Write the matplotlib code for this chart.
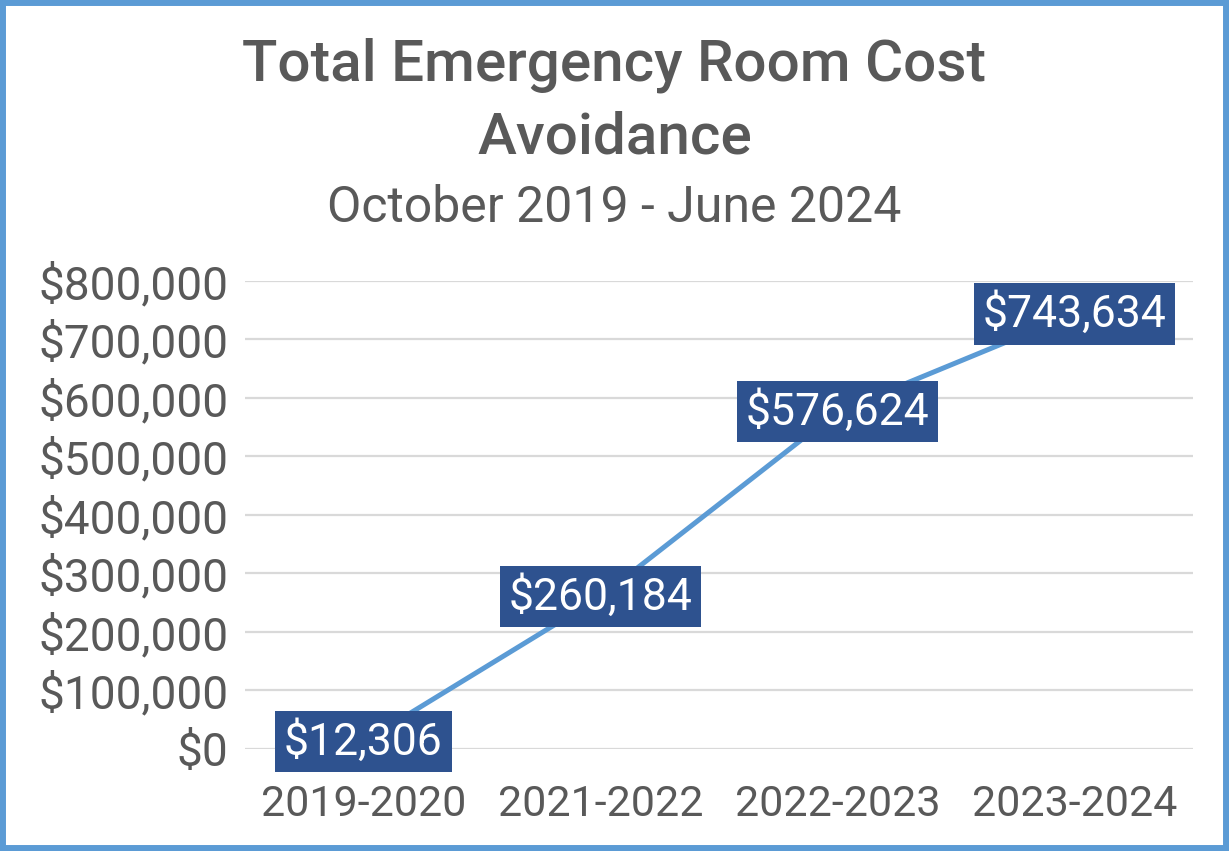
import matplotlib.pyplot as plt
from matplotlib.patches import Rectangle
from matplotlib.ticker import FuncFormatter

# ------------------------
# Data
# ------------------------

periods = ["2019-2020", "2021-2022", "2022-2023", "2023-2024"]
cost_avoided = [12306, 260184, 576624, 743634]
y_ticks = [0, 100000, 200000, 300000, 400000, 500000, 600000, 700000, 800000]

line_blue = "#5B9BD5"
label_blue = "#2E528F"
text_gray = "#595959"
grid_gray = "#D9D9D9"

plt.rcParams["font.family"] = ["Roboto", "DejaVu Sans"]

# ------------------------
# Figure
# ------------------------

fig = plt.figure(figsize=(12.29, 8.51), dpi=100)
ax = fig.add_axes([0.1993, 0.1199, 0.7714, 0.5499])

x = list(range(len(periods)))
ax.plot(x, cost_avoided, color=line_blue, linewidth=3.6, zorder=3)

for xi, v in zip(x, cost_avoided):
    ax.text(xi, v, f"${v:,.0f}", ha="center", va="center", fontsize=32,
            color="white", zorder=4,
            bbox=dict(boxstyle="square,pad=0.2", facecolor=label_blue,
                      edgecolor="none"))

ax.set_xlim(-0.5, len(periods) - 0.5)
ax.set_ylim(0, 800000)
ax.set_xticks(x)
ax.set_xticklabels(periods)
ax.set_yticks(y_ticks)
ax.yaxis.set_major_formatter(FuncFormatter(lambda v, p: f"${v:,.0f}"))

ax.grid(axis="y", color=grid_gray, linewidth=1.6, zorder=0)
ax.set_axisbelow(True)
for s in ax.spines.values():
    s.set_visible(False)
ax.tick_params(axis="both", length=0, labelcolor=text_gray)
ax.tick_params(axis="y", pad=12, labelsize=33)
ax.tick_params(axis="x", pad=25, labelsize=31)

# Title and subtitle
fig.text(0.5, 1 - 65 / 851, "Total Emergency Room Cost", ha="center",
         va="center", fontsize=42, fontweight="medium", color=text_gray)
fig.text(0.5, 1 - 138 / 851, "Avoidance", ha="center", va="center",
         fontsize=42, fontweight="medium", color=text_gray)
fig.text(0.5, 1 - 208 / 851, "October 2019 - June 2024", ha="center",
         va="center", fontsize=36, color=text_gray)

# Outer border
fig.patches.append(Rectangle((0, 0), 1, 1, transform=fig.transFigure,
                             fill=False, edgecolor=line_blue, linewidth=8.6))

fig.savefig("out.png", dpi=100)
